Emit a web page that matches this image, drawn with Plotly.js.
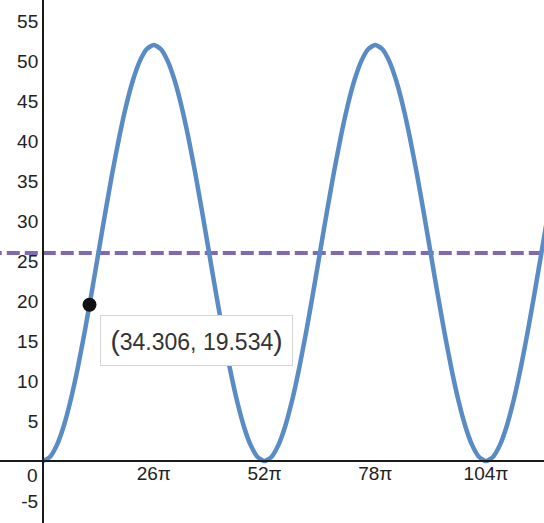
<!DOCTYPE html>
<html>
<head>
<meta charset="utf-8">
<script src="https://cdn.plot.ly/plotly-3.0.1.min.js"></script>
<style>html,body{margin:0;padding:0;background:#fff;}#chart{width:544px;height:523px;}</style>
</head>
<body>
<div id="chart"></div>
<script>
// Curve values
var curveX = [0, 5.11, 10.21, 15.32, 20.42, 25.53, 30.63, 35.74, 40.84, 45.95, 51.05, 56.16, 61.26, 66.37, 71.47, 76.58, 81.68, 86.79, 91.89, 97.00, 102.10, 107.21, 112.31, 117.42, 122.52, 127.63, 132.73, 137.84, 142.94, 148.05, 153.15, 158.26, 163.36, 168.47, 173.57, 178.68, 183.78, 188.89, 193.99, 199.10, 204.20, 209.31, 214.41, 219.52, 224.62, 229.73, 234.83, 239.94, 245.04, 250.15, 255.26, 260.36, 265.47, 270.57, 275.68, 280.78, 285.89, 290.99, 296.10, 301.20, 306.31, 311.41, 316.52, 321.62, 326.73, 331.83, 336.94, 342.04, 347.15, 352.25, 357.36, 362.46, 367.57, 372.67];
var curveY = [0, 0.50, 1.98, 4.38, 7.62, 11.56, 16.05, 20.93, 26, 31.07, 35.95, 40.44, 44.38, 47.62, 50.02, 51.50, 52, 51.50, 50.02, 47.62, 44.38, 40.44, 35.95, 31.07, 26, 20.93, 16.05, 11.56, 7.62, 4.38, 1.98, 0.50,
              0, 0.50, 1.98, 4.38, 7.62, 11.56, 16.05, 20.93, 26, 31.07, 35.95, 40.44, 44.38, 47.62, 50.02, 51.50, 52, 51.50, 50.02, 47.62, 44.38, 40.44, 35.95, 31.07, 26, 20.93, 16.05, 11.56, 7.62, 4.38, 1.98, 0.50,
              0, 0.50, 1.98, 4.38, 7.62, 11.56, 16.05, 20.93, 26, 31.07];
var guideX = [-40, 380];
var guideY = [26, 26];
var pointX = [34.306];
var pointY = [19.534];
var xTickVals = [81.681, 163.363, 245.044, 326.726];
var xTickText = ['26π', '52π', '78π', '104π'];
var yTickVals = [-5, 5, 10, 15, 20, 25, 30, 35, 40, 45, 50, 55];
var yTickText = ['-5', '5', '10', '15', '20', '25', '30', '35', '40', '45', '50', '55'];

var W = 544, H = 523;
var xRange = [-31.72, 369.5];
var yRange = [-7.75, 57.625];
var xAxisPos = (0 - yRange[0]) / (yRange[1] - yRange[0]);
var yAxisPos = (0 - xRange[0]) / (xRange[1] - xRange[0]);

var font = 'Liberation Sans, Arial, sans-serif';

var traces = [
  {x: guideX, y: guideY, mode: 'lines', line: {color: 'rgb(126,104,183)', width: 4, dash: '13px,5px'}, hoverinfo: 'skip', showlegend: false},
  {x: curveX, y: curveY, mode: 'lines', line: {color: 'rgb(89,139,196)', width: 4.5, shape: 'spline', smoothing: 0.6}, hoverinfo: 'skip', showlegend: false},
  {x: pointX, y: pointY, mode: 'markers', marker: {color: '#111', size: 14}, hoverinfo: 'skip', showlegend: false}
];

var layout = {
  width: W, height: H,
  margin: {l: 0, r: 0, t: 0, b: 0, pad: 0},
  paper_bgcolor: '#fff', plot_bgcolor: '#fff',
  showlegend: false,
  font: {family: font, color: '#222', size: 19},
  xaxis: {
    range: xRange, autorange: false, fixedrange: true,
    anchor: 'free', position: xAxisPos,
    showgrid: false, zeroline: false,
    showline: true, linecolor: '#1a1a1a', linewidth: 2,
    ticks: '', tickmode: 'array', tickvals: xTickVals, ticktext: xTickText,
    tickfont: {family: font, size: 19, color: '#222'},
    ticklabelstandoff: -5,
    automargin: false
  },
  yaxis: {
    range: yRange, autorange: false, fixedrange: true,
    anchor: 'free', position: yAxisPos,
    showgrid: false, zeroline: false,
    showline: true, linecolor: '#1a1a1a', linewidth: 2,
    ticks: '', tickmode: 'array', tickvals: yTickVals, ticktext: yTickText,
    tickfont: {family: font, size: 19, color: '#222'},
    ticklabelstandoff: 0,
    automargin: false
  },
  annotations: [
    {x: 0, y: 0, xref: 'x', yref: 'y', text: '0', showarrow: false,
     xanchor: 'right', yanchor: 'top', xshift: -3, yshift: -2,
     font: {family: font, size: 19, color: '#222'}},
    {x: pointX[0], y: pointY[0], xref: 'x', yref: 'y',
     text: '<span style="font-size:28px">(</span>' + pointX[0].toFixed(3) + ', ' + pointY[0].toFixed(3) + '<span style="font-size:28px">)</span>',
     showarrow: false, xanchor: 'left', yanchor: 'top', xshift: 10, yshift: -10,
     width: 189, height: 47, align: 'center', valign: 'middle',
     bgcolor: '#fff', bordercolor: '#d6d6d6', borderwidth: 1, borderpad: 1,
     font: {family: font, size: 23, color: '#333'}}
  ]
};

Plotly.newPlot('chart', traces, layout, {staticPlot: true, displayModeBar: false});
</script>
</body>
</html>
